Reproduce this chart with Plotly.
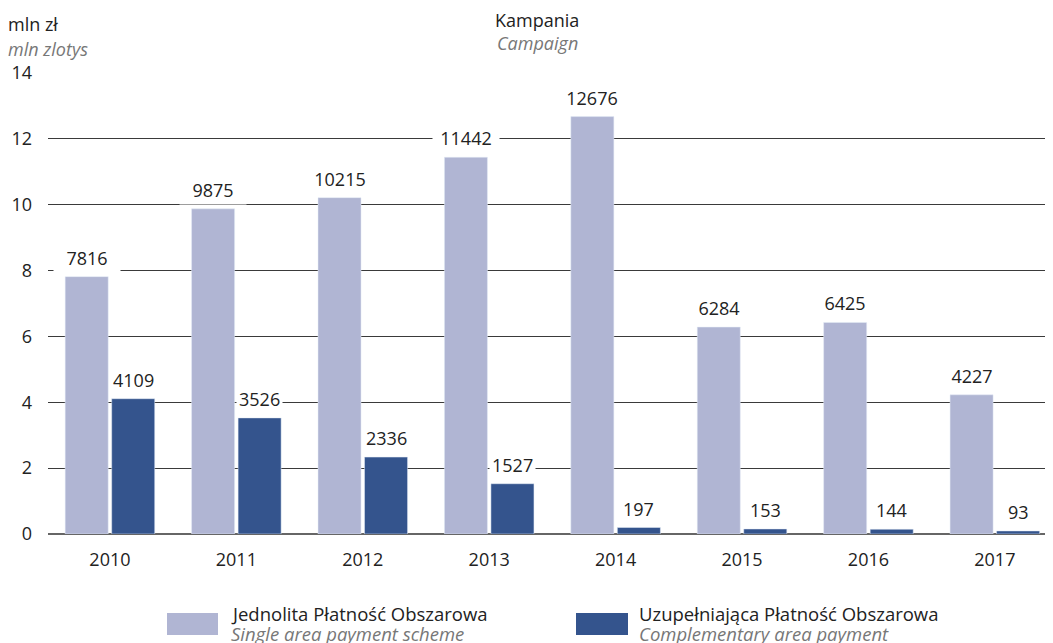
import plotly.graph_objects as go

years = ["2010", "2011", "2012", "2013", "2014", "2015", "2016", "2017"]
single_area = [7816, 9875, 10215, 11442, 12676, 6284, 6425, 4227]
complementary = [4109, 3526, 2336, 1527, 197, 153, 144, 93]
y_ticks = [0, 2, 4, 6, 8, 10, 12, 14]

LIGHT = "#b0b5d3"
DARK = "#34548d"
FONT = "Open Sans"

xs = list(range(len(years)))
fig = go.Figure()
fig.add_bar(x=xs, y=[v / 1000 for v in single_area], marker_color=LIGHT,
            name="Jednolita Płatność Obszarowa", hoverinfo="skip")
fig.add_bar(x=xs, y=[v / 1000 for v in complementary], marker_color=DARK,
            name="Uzupełniająca Płatność Obszarowa", hoverinfo="skip")

# value labels: white background hides gridlines
slot = (1 - 0.264) / 2
for i in xs:
    for j, vals in enumerate([single_area, complementary]):
        xc = i - slot / 2 + j * slot
        extra = dict(width=62) if j == 0 else {}
        fig.add_annotation(x=xc, y=vals[i] / 1000, text=str(vals[i]), showarrow=False,
                           yanchor="bottom", yshift=4, bgcolor="white", borderpad=2,
                           font=dict(family=FONT, size=18, color="#222"), **extra)

# page offset of the figure inside the browser (body margin)
OFF = 8
W, H = 1053 - OFF, 643 - OFF
L, R, T, B = 48 - OFF, 0, 73 - OFF, 643 - 534
pw, ph = W - L - R, H - T - B


def px(x):
    return (x - OFF - L) / pw


def py(y):
    return (H - B - (y - OFF)) / ph


texts = [
    (7, 24, "mln zł", "left", "#222", False, 18),
    (7, 49, "mln zlotys", "left", "#777", True, 18),
    (537, 20, "Kampania", "center", "#222", False, 18),
    (537, 43, "Campaign", "center", "#777", True, 18),
    (230, 613, "Jednolita Płatność Obszarowa", "left", "#222", False, 18.5),
    (230, 633, "Single area payment scheme", "left", "#777", True, 18.5),
    (638, 613, "Uzupełniająca Płatność Obszarowa", "left", "#222", False, 18.5),
    (638, 633, "Complementary area payment", "left", "#777", True, 18.5),
]
for x, y, t, anchor, col, it, sz in texts:
    fig.add_annotation(xref="paper", yref="paper", x=px(x), y=py(y), text=t,
                       showarrow=False, xanchor=anchor, yanchor="middle", borderpad=0,
                       font=dict(family=FONT, size=sz, color=col,
                                 style="italic" if it else "normal"))

for x0, x1, col in [(167, 218, LIGHT), (576, 628, DARK)]:
    fig.add_shape(type="rect", xref="paper", yref="paper", x0=px(x0), x1=px(x1),
                  y0=py(635), y1=py(613), fillcolor=col, line_width=0)

fig.update_layout(
    width=W, height=H, margin=dict(l=L, r=R, t=T, b=B),
    barmode="group", bargap=0.264, bargroupgap=0.075,
    plot_bgcolor="white", paper_bgcolor="white", showlegend=False,
    font=dict(family=FONT, size=18, color="#222"),
)
fig.update_xaxes(range=[-0.49, 7.46], tickvals=xs, ticktext=years, showgrid=False,
                 zeroline=False, showline=False, ticks="", ticklabelstandoff=13,
                 tickfont=dict(size=18))
fig.update_yaxes(range=[0, 14], tickvals=y_ticks, showgrid=True, gridcolor="#3a3a3a",
                 gridwidth=1, zeroline=True, zerolinecolor="#666", zerolinewidth=2,
                 ticks="", ticklabelstandoff=15, tickfont=dict(size=18))

fig.write_html("out.html")
